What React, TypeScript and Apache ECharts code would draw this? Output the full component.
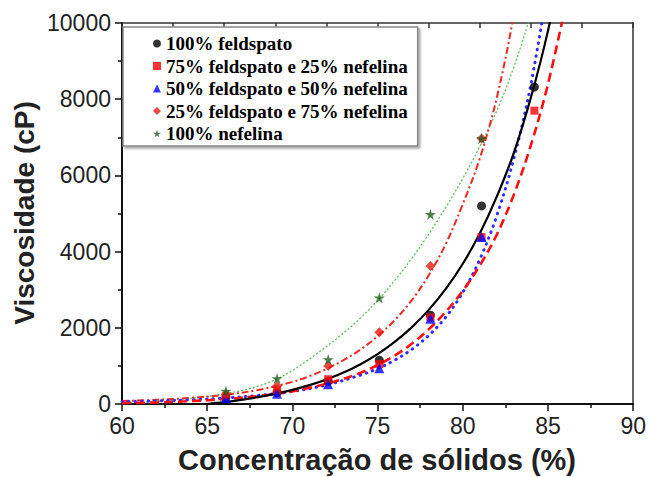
import React, { useEffect, useRef } from "react";
import * as echarts from "echarts";

// Measured points (x = % solids, y = viscosity cP)
const xPts = [66.1, 69.1, 72.1, 75.1, 78.1, 81.1, 84.2];
const feld100 = [180, 300, 600, 1150, 2330, 5200, 8320];
const feld75 = [200, 360, 650, 1050, 2270, 4380, 7700];
const feld50 = [160, 270, 520, 940, 2240, 4380];
const feld25 = [255, 470, 1000, 1880, 3620, 6970];
const nef100 = [340, 670, 1170, 2790, 4980, 6970];

// Fitted curves
const fitXBlack = [65, 66, 67, 68, 69, 70, 71, 72, 73, 74, 75, 76, 77, 78, 79, 80, 81, 82, 83, 84, 85, 86];
const fitYBlack = [0, 50, 110, 180, 265, 370, 495, 645, 825, 1045, 1310, 1630, 2010, 2470, 3020, 3680, 4480, 5450, 6600, 8050, 9800, 12000];
const fitXBlue = [60, 62, 64, 66, 68, 70, 72, 74, 75, 76, 77, 78, 79, 80, 81, 82, 83, 84, 85];
const fitYBlue = [60, 80, 110, 155, 225, 330, 500, 760, 930, 1150, 1430, 1800, 2280, 2930, 3800, 4950, 6450, 8400, 11000];
const fitXRedDash = [60, 62, 64, 66, 68, 70, 72, 73, 74, 75, 76, 77, 78, 79, 80, 81, 82, 83, 84, 85, 86];
const fitYRedDash = [20, 40, 75, 125, 210, 330, 530, 660, 820, 1020, 1270, 1580, 1960, 2420, 2970, 3640, 4450, 5500, 6800, 8400, 10400];
const fitXRedDot = [60, 62, 64, 66, 68, 70, 71, 72, 73, 74, 75, 76, 77, 78, 79, 80, 81, 82, 83, 84];
const fitYRedDot = [80, 110, 160, 240, 370, 580, 730, 920, 1150, 1430, 1780, 2200, 2720, 3380, 4200, 5250, 6450, 8050, 10250, 13200];
const fitXGreen = [60, 62, 64, 65, 66, 67, 68, 69, 70, 71, 72, 73, 74, 75, 76, 77, 78, 79, 80, 81, 82, 83, 84, 85];
const fitYGreen = [30, 70, 150, 200, 270, 350, 470, 640, 880, 1180, 1510, 1860, 2260, 2720, 3240, 3820, 4460, 5160, 5920, 6760, 7700, 8850, 10250, 11900];

const names = [
  "100% feldspato",
  "75% feldspato e 25% nefelina",
  "50% feldspato e 50% nefelina",
  "25% feldspato e 75% nefelina",
  "100% nefelina",
];

const STAR = "path://M50,0 L61,35 L98,35 L68,57 L79,91 L50,70 L21,91 L32,57 L2,35 L39,35 Z";

const zip = (xs: number[], ys: number[]) => ys.map((y, i) => [xs[i], y]);

export default function App() {
  const ref = useRef<HTMLDivElement>(null);
  useEffect(() => {
    if (!ref.current) return;
    const chart = echarts.init(ref.current, null, { renderer: "svg" });
    const lbl = { fontFamily: "Liberation Sans", fontSize: 23, color: "#222" };
    const lineSeries = (name: string, xs: number[], ys: number[], color: string, width: number, type: any, cap = "butt") => ({
      name,
      type: "line",
      data: zip(xs, ys),
      smooth: 0.35,
      showSymbol: false,
      symbol: "none",
      clip: true,
      z: 2,
      lineStyle: { color, width, type, cap },
      silent: true,
    });
    const scatter = (name: string, ys: number[], symbol: string, color: string, size: number) => ({
      name,
      type: "scatter",
      data: zip(xPts, ys),
      symbol,
      symbolSize: size,
      itemStyle: { color },
      z: 5,
    });
    chart.setOption({
      animation: false,
      backgroundColor: "#fff",
      grid: { left: 122, right: 12, top: 23, bottom: 73 },
      xAxis: [
        {
          type: "value",
          min: 60,
          max: 90,
          interval: 5,
          axisLine: { show: true, onZero: false, lineStyle: { color: "#111", width: 2 } },
          axisTick: { show: true, inside: false, length: 7, lineStyle: { color: "#111", width: 1.5 } },
          minorTick: { show: true, splitNumber: 2, length: 4, lineStyle: { color: "#111", width: 1.5 } },
          splitLine: { show: false },
          axisLabel: { ...lbl, margin: 10 },
        },
        {
          type: "value",
          position: "top",
          min: 60,
          max: 90,
          interval: 3,
          axisLine: { show: true, onZero: false, lineStyle: { color: "#333", width: 1.5 } },
          axisTick: { show: true, inside: true, length: 5, lineStyle: { color: "#333", width: 1.5 } },
          axisLabel: { show: false },
          splitLine: { show: false },
        },
      ],
      yAxis: [
        {
          type: "value",
          min: 0,
          max: 10000,
          interval: 2000,
          axisLine: { show: true, onZero: false, lineStyle: { color: "#111", width: 2 } },
          axisTick: { show: true, inside: false, length: 7, lineStyle: { color: "#111", width: 1.5 } },
          minorTick: { show: true, splitNumber: 2, length: 4, lineStyle: { color: "#111", width: 1.5 } },
          splitLine: { show: false },
          axisLabel: { ...lbl, margin: 11, formatter: (v: number) => String(v) },
        },
        {
          type: "value",
          position: "right",
          min: 0,
          max: 10000,
          interval: 2000,
          axisLine: { show: true, onZero: false, lineStyle: { color: "#333", width: 1.5 } },
          axisTick: { show: false },
          axisLabel: { show: false },
          splitLine: { show: false },
        },
      ],
      legend: {
        orient: "vertical",
        left: 123,
        top: 27,
        padding: [7, 10, 3, 30],
        itemGap: 3.5,
        itemWidth: 8,
        itemHeight: 8,
        backgroundColor: "#fff",
        borderColor: "#888",
        borderWidth: 1.5,
        shadowColor: "rgba(0,0,0,0.35)",
        shadowBlur: 2,
        shadowOffsetX: 2,
        shadowOffsetY: 2,
        textStyle: { fontFamily: "Liberation Serif", fontWeight: "bold", fontSize: 19, color: "#000" },
        data: [
          { name: names[0], icon: "circle" },
          { name: names[1], icon: "rect" },
          { name: names[2], icon: "triangle" },
          { name: names[3], icon: "diamond" },
          { name: names[4], icon: STAR },
        ],
      },
      series: [
        lineSeries("fit-green", fitXGreen, fitYGreen, "#5cbf5c", 1.3, [2, 2]),
        lineSeries("fit-reddot", fitXRedDot, fitYRedDot, "#ec2a22", 2, [7, 3, 2, 3]),
        lineSeries("fit-blue", fitXBlue, fitYBlue, "#2e2eff", 3, [0.5, 6], "round"),
        lineSeries("fit-reddash", fitXRedDash, fitYRedDash, "#ff1010", 2.6, [9, 5]),
        lineSeries("fit-black", fitXBlack, fitYBlack, "#000", 2.2, "solid"),
        scatter(names[0], feld100, "circle", "#000", 9),
        scatter(names[1], feld75, "rect", "#ff0000", 8),
        scatter(names[2], feld50, "triangle", "#0000ff", 10),
        scatter(names[3], feld25, "diamond", "#e51c14", 10),
        scatter(names[4], nef100, STAR, "#1b5e1b", 11),
      ],
      graphic: [
        {
          type: "text",
          x: 24,
          y: 213,
          rotation: Math.PI / 2,
          style: {
            text: "Viscosidade (cP)",
            fontFamily: "Liberation Sans",
            fontWeight: "bold",
            fontSize: 28,
            fill: "#222",
            align: "center",
            verticalAlign: "middle",
          },
        },
        {
          type: "text",
          x: 377,
          y: 460,
          style: {
            text: "Concentração de sólidos (%)",
            fontFamily: "Liberation Sans",
            fontWeight: "bold",
            fontSize: 29,
            fill: "#222",
            align: "center",
            verticalAlign: "middle",
          },
        },
      ],
    });
    return () => chart.dispose();
  }, []);
  return <div ref={ref} style={{ width: 649, height: 477, position: "absolute", left: 0, top: 0 }} />;
}
